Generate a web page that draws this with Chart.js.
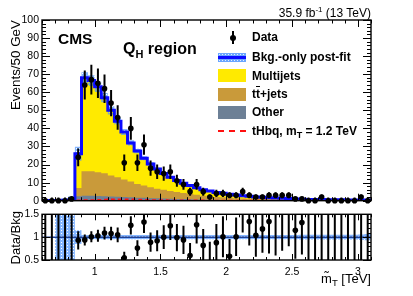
<!DOCTYPE html>
<html>
<head>
<meta charset="utf-8">
<script src="https://cdn.jsdelivr.net/npm/chart.js@4.4.1/dist/chart.umd.min.js"></script>
<style>
  body { margin: 0; width: 413px; height: 296px; background: #fff; overflow: hidden; position: relative;
    font-family: "Liberation Sans", Arial, Helvetica, sans-serif; color: #000; }
  canvas { position: absolute; left: 0; }
  #main-chart { top: 0; }
  #ratio-chart { top: 205px; }
  .txt { position: absolute; white-space: nowrap; line-height: 1; }
  .leg { position: absolute; left: 252px; font-size: 12px; font-weight: bold; white-space: nowrap; line-height: 1; }
  .box { position: absolute; left: 218px; width: 28px; }
  .rot { position: absolute; transform-origin: 0 0; transform: rotate(-90deg); text-align: right; white-space: nowrap; line-height: 1; }
</style>
</head>
<body>
<canvas id="main-chart" width="413" height="210"></canvas>
<canvas id="ratio-chart" width="413" height="91"></canvas>

<div class="txt" style="right:42px; top:6px; font-size:12px;">35.9 fb<span style="font-size:8px; vertical-align:5px;">-1</span> (13 TeV)</div>
<div class="txt" style="left:58px; top:31px; font-size:15.5px; font-weight:bold;">CMS</div>
<div class="txt" style="left:123px; top:41px; font-size:16px; font-weight:bold;">Q<span style="font-size:11px; vertical-align:-4px;">H</span> region</div>

<!-- legend -->
<div class="box" style="left:231.5px; width:2px; top:31px; height:13px; background:#000;"></div>
<div class="box" style="left:229.5px; width:6px; top:34.5px; height:6px; border-radius:50%; background:#000;"></div>
<div class="box" style="top:53px; height:9px; background:#6aa6ff radial-gradient(#e2eeff 35%, transparent 40%) 0 0 / 3px 3px;"></div>
<div class="box" style="top:56.2px; height:2.8px; background:#0a0aff;"></div>
<div class="box" style="top:68.5px; height:13px; background:#ffea00;"></div>
<div class="box" style="top:87.5px; height:13px; background:#c99a3a;"></div>
<div class="box" style="top:106px; height:13px; background:#6d8096;"></div>
<div class="box" style="top:129.7px; height:0; border-top:2px dashed #ff1010;"></div>

<div class="leg" style="top:31.4px;">Data</div>
<div class="leg" style="top:50.8px;">Bkg.-only post-fit</div>
<div class="leg" style="top:69.8px;">Multijets</div>
<div class="leg" style="top:88.1px;">t<span style="text-decoration:overline;">t</span>+jets</div>
<div class="leg" style="top:106.4px;">Other</div>
<div class="leg" style="top:124.8px;">tHbq, m<span style="font-size:9px; vertical-align:-3px;">T</span> = 1.2 TeV</div>

<!-- axis titles -->
<div class="rot" style="left:8.5px; top:140px; width:120px; font-size:13.4px;">Events/50 GeV</div>
<div class="rot" style="left:8.7px; top:291px; width:80px; font-size:13px;">Data/Bkg</div>
<div class="txt" style="right:42px; top:272px; font-size:13px;">m&#771;<span style="font-size:9.5px; vertical-align:-3px;">T</span> [TeV]</div>

<script>
'use strict';

// ******* DATA *******
// m_T bin edges, 50 GeV bins
let binEdges = [0.6, 0.65, 0.7, 0.75, 0.8, 0.85, 0.9, 0.95, 1.0, 1.05,
  1.1, 1.15, 1.2, 1.25, 1.3, 1.35, 1.4, 1.45, 1.5, 1.55,
  1.6, 1.65, 1.7, 1.75, 1.8, 1.85, 1.9, 1.95, 2.0, 2.05,
  2.1, 2.15, 2.2, 2.25, 2.3, 2.35, 2.4, 2.45, 2.5, 2.55,
  2.6, 2.65, 2.7, 2.75, 2.8, 2.85, 2.9, 2.95, 3.0, 3.05, 3.1];

let dataCounts = [0, 0, 0, 0, 1, 24, 64, 67, 65, 62,
  54, 46, 21, 40, 21, 31, 18, 16, 15, 16,
  11, 9, 5, 9, 5, 2, 4, 4, 3, 3,
  5, 3, 2, 2, 3, 3, 3, 3, 1, 1,
  0, 0, 2, 0, 0, 0, 0, 0, 2, 0];

let dataErr = [1.8, 1.8, 1.8, 1.8, 1.2, 4.9, 8, 8.2, 8.1, 7.9,
  7.3, 6.8, 4.6, 6.3, 4.6, 5.6, 4.2, 4, 3.9, 4,
  3.3, 3, 2.2, 3, 2.2, 1.4, 2, 2, 1.7, 1.7,
  2.2, 1.7, 1.4, 1.4, 1.7, 1.7, 1.7, 1.7, 1.2, 1.2,
  1.8, 1.8, 1.4, 1.8, 1.8, 1.8, 1.8, 1.8, 1.4, 1.8];

let otherBkg = [0, 0, 0.02, 0.05, 0.1, 2.4, 2.8, 2.7, 2.6, 2.5,
  2.3, 2.2, 2.0, 1.9, 1.7, 1.6, 1.4, 1.3, 1.2, 1.1,
  1.0, 0.9, 0.8, 0.7, 0.6, 0.55, 0.5, 0.45, 0.4, 0.35,
  0.3, 0.28, 0.25, 0.22, 0.2, 0.18, 0.16, 0.14, 0.12, 0.11,
  0.1, 0.09, 0.08, 0.08, 0.07, 0.07, 0.06, 0.06, 0.05, 0.05];

let ttbarBkg = [0.02, 0.05, 0.05, 0.1, 0.2, 4.6, 13.5, 13.6, 13.2, 12.7,
  11.6, 10.8, 9.7, 8.7, 7.6, 6.8, 6.1, 5.3, 4.8, 4.2,
  3.8, 3.3, 2.9, 2.6, 2.2, 1.9, 1.6, 1.4, 1.2, 1.05,
  0.9, 0.8, 0.7, 0.6, 0.55, 0.48, 0.42, 0.37, 0.3, 0.26,
  0.23, 0.2, 0.19, 0.17, 0.15, 0.14, 0.13, 0.12, 0.11, 0.1];

let multijetBkg = [0.03, 0.05, 0.08, 0.05, 0.1, 19.0, 51.7, 50.2, 47.2, 41.8,
  36.1, 31.0, 26.3, 21.4, 18.2, 15.1, 12.8, 10.9, 9.0, 7.7,
  6.4, 5.5, 4.7, 3.9, 3.3, 2.85, 2.5, 2.25, 2.0, 1.7,
  1.6, 1.32, 1.15, 1.03, 0.9, 0.79, 0.72, 0.64, 0.53, 0.45,
  0.39, 0.36, 0.33, 0.3, 0.28, 0.26, 0.25, 0.24, 0.24, 0.23];

let signalTHbq = [0, 0, 0, 0, 0, 0.1, 0.2, 0.3, 0.4, 0.5,
  0.6, 0.7, 0.7, 0.6, 0.5, 0.4, 0.3, 0.25, 0.2, 0.15,
  0.12, 0.1, 0.08, 0.06, 0.05, 0.04, 0.03, 0.03, 0.02, 0.02,
  0.02, 0.01, 0.01, 0.01, 0.01, 0, 0, 0, 0, 0,
  0, 0, 0, 0, 0, 0, 0, 0, 0, 0];

// relative post-fit background uncertainty
let bkgRelUnc = [0, 0, 5, 5, 5, 0.15, 0.045, 0.045, 0.045, 0.045,
  0.045, 0.045, 0.045, 0.045, 0.045, 0.045, 0.045, 0.045, 0.045, 0.045,
  0.045, 0.045, 0.045, 0.045, 0.045, 0.045, 0.045, 0.045, 0.045, 0.045,
  0.045, 0.045, 0.045, 0.045, 0.045, 0.045, 0.045, 0.045, 0.045, 0.05,
  0.05, 0.05, 0.05, 0.05, 0.05, 0.05, 0.05, 0.05, 0.06, 0.07];

let ratioVals = [0, 0, 0, 0, 2.5, 0.93, 0.94, 1.01, 1.03, 1.09,
  1.08, 1.05, 0.55, 1.26, 0.76, 1.33, 0.89, 0.92, 1.0, 1.25,
  0.99, 0.94, 0.6, 1.27, 0.82, 0.4, 0.88, 1.01, 0.58, 1.01,
  1.8, 1.34, 1.04, 1.18, 1.34, 2.0, 2.2, 2.4, 1.15, 1.32,
  0, 0, 3.3, 0, 0, 0, 0, 0, 3.5, 0];

let ratioErr = [9, 9, 9, 9, 2.5, 0.2, 0.12, 0.12, 0.13, 0.14,
  0.15, 0.16, 0.13, 0.2, 0.17, 0.24, 0.21, 0.23, 0.26, 0.31,
  0.3, 0.31, 0.27, 0.41, 0.36, 0.5, 0.41, 0.45, 0.38, 0.42,
  0.7, 0.52, 0.47, 0.52, 0.7, 1.4, 1.5, 1.6, 0.62, 0.7,
  2.5, 2.8, 3.0, 3.3, 3.6, 3.8, 4.1, 4.3, 3.2, 4.7];

let mainYTicks = [0, 10, 20, 30, 40, 50, 60, 70, 80, 90, 100];
let ratioYTicks = [0.5, 1, 1.5];
let xTicks = [1, 1.5, 2, 2.5, 3];

// ******* HELPERS *******
let tickFont = { family: '"Liberation Sans", Arial, sans-serif', size: 10.5 };

function stepPoints(values) {
  let pts = [];
  for (let i = 0; i < values.length; i++) {
    pts.push({ x: binEdges[i], y: values[i] });
  }
  pts.push({ x: binEdges[values.length], y: values[values.length - 1] });
  return pts;
}

function centerPoints(values) {
  let pts = [];
  for (let i = 0; i < values.length; i++) {
    pts.push({ x: (binEdges[i] + binEdges[i + 1]) / 2, y: values[i] });
  }
  return pts;
}

function dotPattern(color) {
  let c = document.createElement('canvas');
  c.width = 3; c.height = 3;
  let g = c.getContext('2d');
  g.fillStyle = color;
  g.fillRect(0, 0, 3, 3);
  g.clearRect(1, 1, 1, 1);
  return g.createPattern(c, 'repeat');
}

// stacked sums
let cumOther = [], cumTT = [], cumAll = [], bandHi = [], bandLo = [], ratioHi = [], ratioLo = [];
for (let i = 0; i < dataCounts.length; i++) {
  cumOther.push(otherBkg[i]);
  cumTT.push(otherBkg[i] + ttbarBkg[i]);
  cumAll.push(otherBkg[i] + ttbarBkg[i] + multijetBkg[i]);
  bandHi.push(cumAll[i] * (1 + bkgRelUnc[i]));
  bandLo.push(Math.max(0, cumAll[i] * (1 - bkgRelUnc[i])));
  ratioHi.push(1 + bkgRelUnc[i]);
  ratioLo.push(1 - bkgRelUnc[i]);
}

// ******* PLUGINS *******
// ROOT style frame with inward ticks on all four sides
let frameTicks = {
  id: 'frameTicks',
  afterDraw(chart, args, opts) {
    let { ctx, chartArea: a, scales: { x, y } } = chart;
    ctx.save();
    ctx.strokeStyle = '#000';
    ctx.lineWidth = 1;
    ctx.beginPath();
    let xs = [];
    for (let k = Math.ceil(x.min / opts.xMinor - 1e-6); k * opts.xMinor <= x.max + 1e-9; k++) xs.push(k * opts.xMinor);
    xs.forEach((v) => {
      let px = Math.round(x.getPixelForValue(v)) + 0.5;
      let major = Math.abs(v / opts.xMajor - Math.round(v / opts.xMajor)) < 1e-6;
      let len = major ? opts.xMajorLen : opts.xMinorLen;
      ctx.moveTo(px, a.bottom); ctx.lineTo(px, a.bottom - len);
      ctx.moveTo(px, a.top); ctx.lineTo(px, a.top + len);
    });
    let ys = [];
    for (let k = Math.ceil(y.min / opts.yMinor - 1e-6); k * opts.yMinor <= y.max + 1e-9; k++) ys.push(k * opts.yMinor);
    ys.forEach((v) => {
      let py = Math.round(y.getPixelForValue(v)) + 0.5;
      let major = Math.abs(v / opts.yMajor - Math.round(v / opts.yMajor)) < 1e-6;
      let len = major ? opts.yMajorLen : opts.yMinorLen;
      ctx.moveTo(a.left, py); ctx.lineTo(a.left + len, py);
      ctx.moveTo(a.right, py); ctx.lineTo(a.right - len, py);
    });
    ctx.stroke();
    ctx.lineWidth = 1.4;
    ctx.strokeRect(a.left, a.top, a.right - a.left, a.bottom - a.top);
    ctx.restore();
  }
};

// vertical error bars for datasets that carry an errors array
let errorBars = {
  id: 'errorBars',
  beforeDatasetDraw(chart, args) {
    let ds = chart.data.datasets[args.index];
    if (!ds.errors) return;
    let { ctx, chartArea: a, scales: { x, y } } = chart;
    ctx.save();
    ctx.beginPath();
    ctx.rect(a.left, a.top, a.right - a.left, a.bottom - a.top);
    ctx.clip();
    ctx.strokeStyle = '#000';
    ctx.lineWidth = 2;
    ds.data.forEach((p, i) => {
      let px = x.getPixelForValue(p.x);
      ctx.beginPath();
      ctx.moveTo(px, y.getPixelForValue(p.y - ds.errors[i]));
      ctx.lineTo(px, y.getPixelForValue(p.y + ds.errors[i]));
      ctx.stroke();
    });
    ctx.restore();
  }
};

function yScale(min, max, ticks) {
  return {
    min: min, max: max,
    afterFit: (s) => { s.width = 42; },
    afterBuildTicks: (s) => { s.ticks = ticks.map((v) => ({ value: v })); },
    grid: { display: false, drawTicks: false },
    border: { display: false },
    ticks: { padding: 3, color: '#000', font: tickFont, autoSkip: false, callback: (v) => String(v) }
  };
}

// ******* MAIN PANEL *******
let bandPattern = dotPattern('rgba(80,150,255,0.7)');

new Chart(document.getElementById('main-chart').getContext('2d'), {
  type: 'line',
  data: {
    datasets: [
      { label: 'Data', data: centerPoints(dataCounts), errors: dataErr, showLine: false,
        pointRadius: 2.8, pointBackgroundColor: '#000', pointBorderWidth: 0, clip: 6, order: 0 },
      { label: 'Bkg.-only post-fit', data: stepPoints(cumAll), stepped: true, borderColor: '#0a0aff',
        borderWidth: 3, pointRadius: 0, fill: false, order: 1 },
      { label: 'tHbq', data: stepPoints(signalTHbq), stepped: true, borderColor: '#ff1010',
        borderWidth: 2, borderDash: [4, 3], pointRadius: 0, fill: false, order: 2 },
      { label: 'band hi', data: stepPoints(bandHi), stepped: true, borderWidth: 0, pointRadius: 0,
        backgroundColor: bandPattern, fill: 4, order: 3 },
      { label: 'band lo', data: stepPoints(bandLo), stepped: true, borderWidth: 0, pointRadius: 0,
        fill: false, order: 4 },
      { label: 'Other', data: stepPoints(cumOther), stepped: true, borderWidth: 0, pointRadius: 0,
        backgroundColor: '#6d8096', fill: 'origin', order: 5 },
      { label: 'ttbar', data: stepPoints(cumTT), stepped: true, borderWidth: 0, pointRadius: 0,
        backgroundColor: '#c99a3a', fill: 'origin', order: 6 },
      { label: 'Multijets', data: stepPoints(cumAll), stepped: true, borderWidth: 0, pointRadius: 0,
        backgroundColor: '#ffea00', fill: 'origin', order: 7 }
    ]
  },
  options: {
    responsive: false,
    animation: false,
    layout: { padding: { top: 20, right: 42, bottom: 8, left: 0 } },
    plugins: {
      legend: { display: false },
      tooltip: { enabled: false },
      frameTicks: { xMinor: 0.1, xMajor: 0.5, xMajorLen: 7, xMinorLen: 3.5, yMinor: 2, yMajor: 10, yMajorLen: 8, yMinorLen: 4 }
    },
    scales: {
      x: { type: 'linear', min: 0.6, max: 3.1, display: false },
      y: yScale(0, 100, mainYTicks)
    }
  },
  plugins: [frameTicks, errorBars]
});

// ******* RATIO PANEL *******
let ratioPattern = dotPattern('rgba(80,150,255,0.7)');

new Chart(document.getElementById('ratio-chart').getContext('2d'), {
  type: 'line',
  data: {
    datasets: [
      { label: 'ratio', data: centerPoints(ratioVals), errors: ratioErr, showLine: false,
        pointRadius: 2.8, pointBackgroundColor: '#000', pointBorderWidth: 0, order: 0 },
      { label: 'unity', data: stepPoints(dataCounts.map(() => 1)), borderColor: '#1c3f94',
        borderWidth: 1.5, pointRadius: 0, fill: false, order: 1 },
      { label: 'unc hi', data: stepPoints(ratioHi), stepped: true, borderWidth: 0, pointRadius: 0,
        backgroundColor: ratioPattern, fill: 3, order: 2 },
      { label: 'unc lo', data: stepPoints(ratioLo), stepped: true, borderWidth: 0, pointRadius: 0,
        fill: false, order: 3 }
    ]
  },
  options: {
    responsive: false,
    animation: false,
    layout: { padding: { top: 6, right: 42, bottom: 0, left: 0 } },
    plugins: {
      legend: { display: false },
      tooltip: { enabled: false },
      frameTicks: { xMinor: 0.1, xMajor: 0.5, xMajorLen: 6, xMinorLen: 3, yMinor: 0.1, yMajor: 0.5, yMajorLen: 8, yMinorLen: 4 }
    },
    scales: {
      x: {
        type: 'linear', min: 0.6, max: 3.1,
        afterFit: (s) => { s.height = 36; },
        afterBuildTicks: (s) => { s.ticks = xTicks.map((v) => ({ value: v })); },
        grid: { display: false, drawTicks: false },
        border: { display: false },
        ticks: { padding: 6, color: '#000', font: tickFont, autoSkip: false, maxRotation: 0, callback: (v) => String(v) }
      },
      y: yScale(0.5, 1.5, ratioYTicks)
    }
  },
  plugins: [frameTicks, errorBars]
});
</script>
</body>
</html>
